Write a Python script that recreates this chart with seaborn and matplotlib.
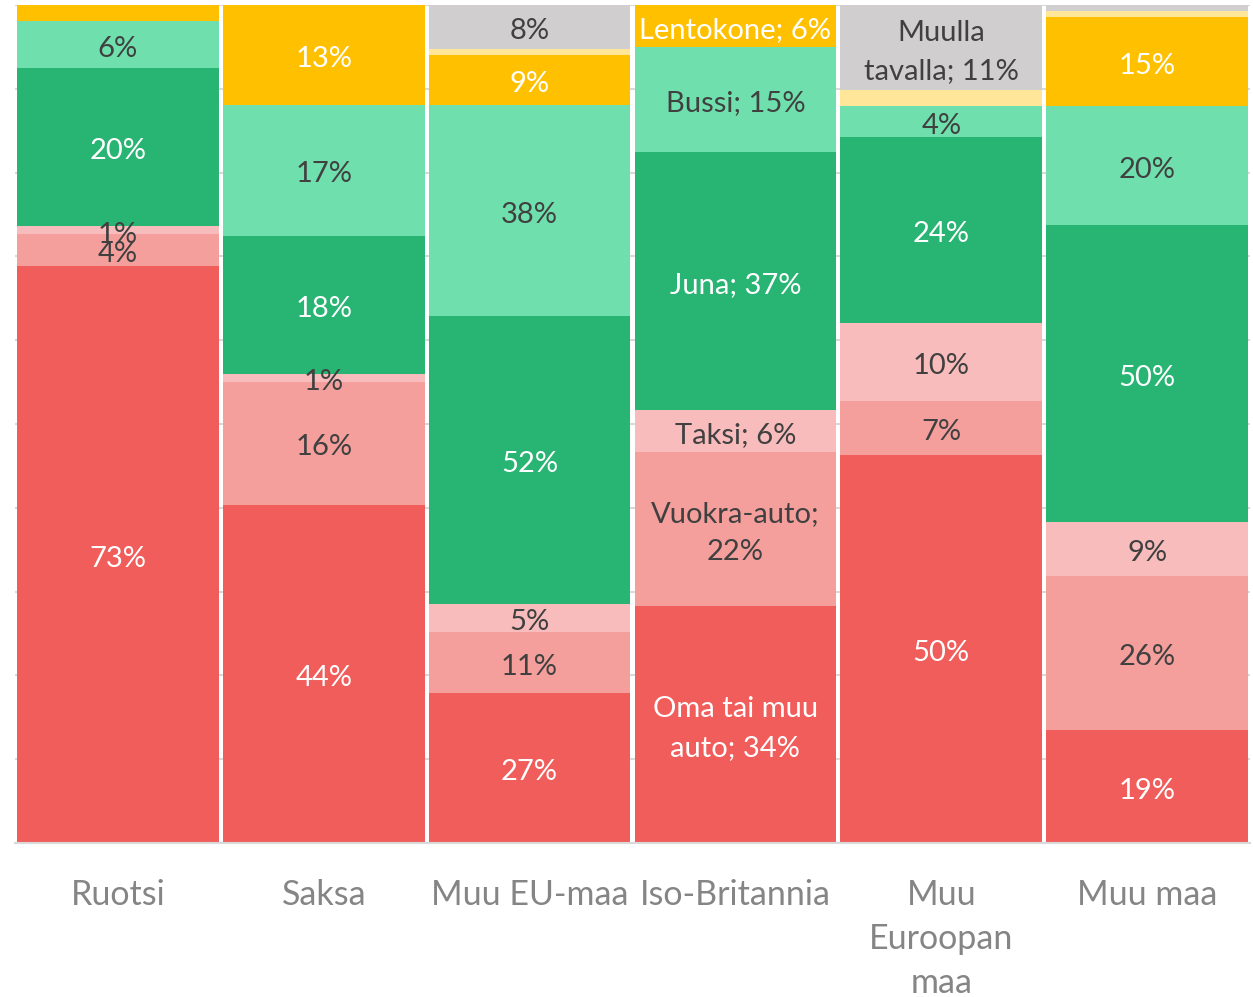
import pandas as pd
import numpy as np
import matplotlib.pyplot as plt
import seaborn as sns

# Countries (x axis) and their tick labels
countries = ["Ruotsi", "Saksa", "Muu EU-maa", "Iso-Britannia", "Muu Euroopan maa", "Muu maa"]
tick_labels = ["Ruotsi", "Saksa", "Muu EU-maa", "Iso-Britannia", "Muu\nEuroopan\nmaa", "Muu maa"]

# Travel modes, bottom -> top of the stack
modes = ["Oma tai muu auto", "Vuokra-auto", "Taksi", "Juna", "Bussi",
         "Lentokone", "Laiva", "Muulla tavalla"]

# Shares (%) per country, read from the chart labels (unlabeled strips estimated)
oma = [73, 44, 27, 34, 50, 19]
vuokra = [4, 16, 11, 22, 7, 26]
taksi = [1, 1, 5, 6, 10, 9]
juna = [20, 18, 52, 37, 24, 50]
bussi = [6, 17, 38, 15, 4, 20]
lentokone = [2, 13, 9, 6, 0, 15]
laiva = [0, 0, 1, 0, 2, 1]
muulla = [0, 0, 8, 0, 11, 1]

colors = {"Oma tai muu auto": "#F05D5B", "Vuokra-auto": "#F49F9C", "Taksi": "#F9BCBC",
          "Juna": "#28B473", "Bussi": "#6FE0AD", "Lentokone": "#FFC000",
          "Laiva": "#FFE699", "Muulla tavalla": "#D0CECE"}
white_text = {"Oma tai muu auto", "Juna", "Lentokone"}

# segments without a data label in the original
hidden = {("Ruotsi", "Lentokone"), ("Muu maa", "Muulla tavalla")} | {(c, "Laiva") for c in countries}

# labels that show the series name too
named = {("Iso-Britannia", "Lentokone"): "Lentokone; {}%",
         ("Iso-Britannia", "Bussi"): "Bussi; {}%",
         ("Iso-Britannia", "Juna"): "Juna; {}%",
         ("Iso-Britannia", "Taksi"): "Taksi; {}%",
         ("Iso-Britannia", "Vuokra-auto"): "Vuokra-auto;\n{}%",
         ("Iso-Britannia", "Oma tai muu auto"): "Oma tai muu\nauto; {}%",
         ("Muu Euroopan maa", "Muulla tavalla"): "Muulla\ntavalla; {}%"}

series = [oma, vuokra, taksi, juna, bussi, lentokone, laiva, muulla]
df = pd.DataFrame(
    [(c, m, vals[i]) for m, vals in zip(modes, series) for i, c in enumerate(countries)],
    columns=["country", "mode", "value"])

plt.rcParams['font.family'] = ['Lato', 'DejaVu Sans']

fig = plt.figure(figsize=(12.53, 9.97), dpi=100)
ax = fig.add_axes([15 / 1253, 1 - 843 / 997, 1235 / 1253, 838 / 997])

# seaborn stacks the last hue level at the bottom, so reverse the order
sns.histplot(data=df, x="country", hue="mode", weights="value", multiple="fill",
             discrete=True, shrink=0.98, hue_order=modes[::-1], palette=colors,
             alpha=1, linewidth=0, legend=False, ax=ax)

# data labels at segment centres
totals = df.groupby("country", sort=False)["value"].sum()
for i, c in enumerate(countries):
    base = 0
    for m, vals in zip(modes, series):
        v = vals[i]
        frac = v / totals[c]
        if v > 0 and (c, m) not in hidden:
            txt = named.get((c, m), "{}%").format(v)
            ax.text(i, base + frac / 2 - 0.005, txt, ha="center", va="center", fontsize=21,
                    color="white" if m in white_text else "#404040", linespacing=1.6)
        base += frac

ax.set_xlim(-0.5, 5.5)
ax.set_ylim(0, 1)
ax.set_yticks(np.arange(0, 1.01, 0.1))
ax.set_yticklabels([])
ax.yaxis.grid(True, color="#D9D9D9", linewidth=1.5)
ax.set_axisbelow(True)
ax.tick_params(axis="y", length=0)
ax.tick_params(axis="x", length=0, pad=26, labelsize=24.5, labelcolor="#858585")
ax.set_xticks(range(len(countries)))
ax.set_xticklabels(tick_labels, linespacing=1.45, va="top")
ax.set_xlabel("")
ax.set_ylabel("")
for s in ["top", "left", "right"]:
    ax.spines[s].set_visible(False)
ax.spines["bottom"].set_color("#D9D9D9")
ax.spines["bottom"].set_linewidth(1.5)

plt.savefig("out.png", dpi=100)
